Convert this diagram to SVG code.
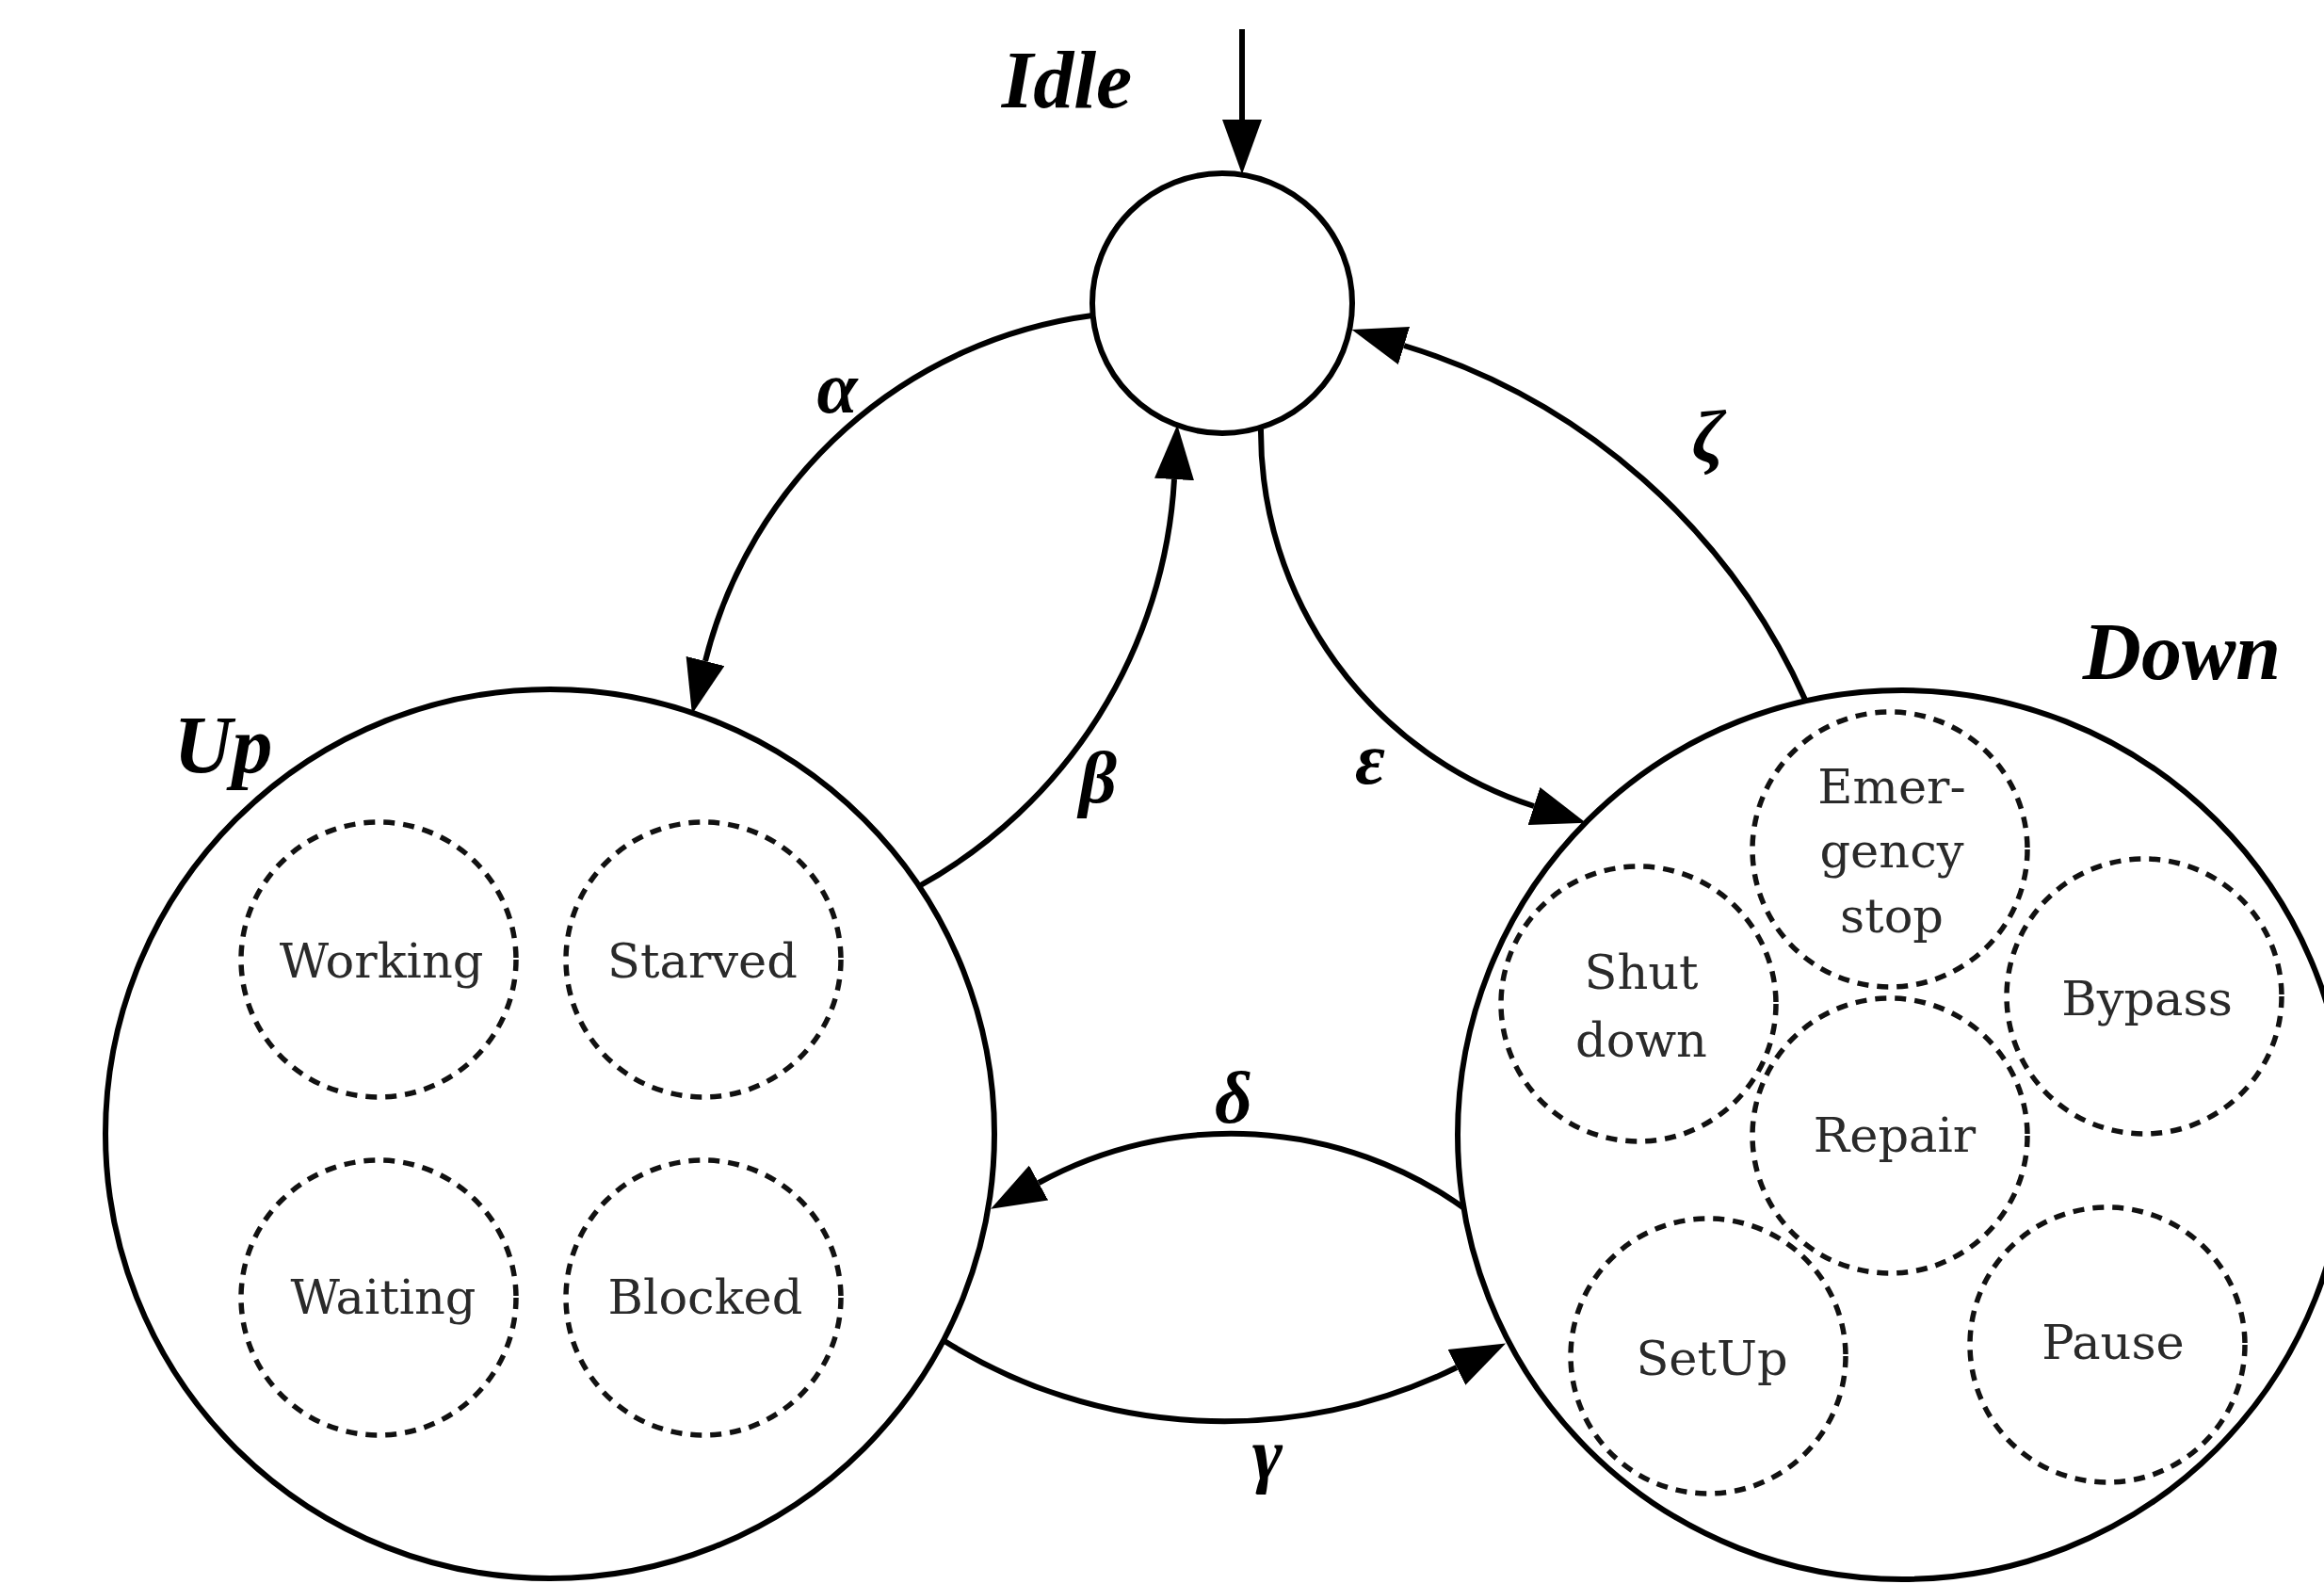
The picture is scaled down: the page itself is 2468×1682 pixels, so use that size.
<svg xmlns="http://www.w3.org/2000/svg" width="2468" height="1682" viewBox="0 0 2468 1682">
<style>
.main{fill:#fff;stroke:#000;stroke-width:6}
.sub{fill:none;stroke:#111;stroke-width:5.5;stroke-dasharray:12 9}
.conn{fill:none;stroke:#000;stroke-width:6}
.lbl{font-family:"Liberation Serif",serif;font-style:italic;font-weight:bold;font-size:86px;fill:#000;text-anchor:middle}
.gr{font-family:"Liberation Serif",serif;font-style:italic;font-weight:bold;font-size:78px;fill:#000;text-anchor:middle}
.in{font-family:"DejaVu Serif",serif;font-size:51px;fill:#2a2a2a;text-anchor:middle}
</style>
<defs>
<marker id="ah" markerUnits="userSpaceOnUse" viewBox="0 0 58 42" refX="0" refY="21" markerWidth="58" markerHeight="42" orient="auto">
<path d="M0,0 L58,21 L0,42 z" fill="#000"/>
</marker>
</defs>
<rect width="2468" height="1682" fill="#fff"/>

<g id="idle">
<circle class="main" cx="1298" cy="322" r="138"/>
<text class="lbl" x="1133" y="114">Idle</text>
</g>

<g id="up">
<circle class="main" cx="584" cy="1204" r="472"/>
<text class="lbl" x="237" y="820">Up</text>
<g id="working"><circle class="sub" cx="402" cy="1019" r="146"/><text class="in" x="405" y="1038">Working</text></g>
<g id="starved"><circle class="sub" cx="747" cy="1019" r="146"/><text class="in" x="746" y="1038">Starved</text></g>
<g id="waiting"><circle class="sub" cx="402" cy="1378" r="146"/><text class="in" x="407" y="1395">Waiting</text></g>
<g id="blocked"><circle class="sub" cx="747" cy="1378" r="146"/><text class="in" x="749" y="1395">Blocked</text></g>
</g>

<g id="down">
<circle class="main" cx="2020" cy="1205" r="472"/>
<text class="lbl" x="2317" y="721">Down</text>
<g id="emergency"><circle class="sub" cx="2007" cy="902" r="146"/><text class="in" x="2009" y="853">Emer-</text><text class="in" x="2009" y="921">gency</text><text class="in" x="2009" y="990">stop</text></g>
<g id="shutdown"><circle class="sub" cx="1740" cy="1066" r="146"/><text class="in" x="1743" y="1050">Shut</text><text class="in" x="1743" y="1122">down</text></g>
<g id="bypass"><circle class="sub" cx="2277" cy="1058" r="146"/><text class="in" x="2280" y="1078">Bypass</text></g>
<g id="repair"><circle class="sub" cx="2007" cy="1206" r="146"/><text class="in" x="2012" y="1223">Repair</text></g>
<g id="setup"><circle class="sub" cx="1814" cy="1440" r="146"/><text class="in" x="1818" y="1460">SetUp</text></g>
<g id="pause"><circle class="sub" cx="2238" cy="1428" r="146"/><text class="in" x="2244" y="1443">Pause</text></g>
</g>

<g id="connectors">
<path class="conn" d="M1319,31 L1319,127" marker-end="url(#ah)"/>
<path class="conn" d="M1160,335 A490,490 0 0 0 749,702" marker-end="url(#ah)"/>
<path class="conn" d="M976,941 A528,528 0 0 0 1247,509" marker-end="url(#ah)"/>
<path class="conn" d="M1339,456 A418,418 0 0 0 1629,856" marker-end="url(#ah)"/>
<path class="conn" d="M1917,743 A685,685 0 0 0 1491,367" marker-end="url(#ah)"/>
<path class="conn" d="M1555,1283 A426,426 0 0 0 1103,1256" marker-end="url(#ah)"/>
<path class="conn" d="M1003,1424 A560,560 0 0 0 1547,1452" marker-end="url(#ah)"/>
<text class="gr" x="889" y="438">α</text>
<text class="gr" x="1166" y="852">β</text>
<text class="gr" x="1455" y="832">ε</text>
<text class="gr" x="1814" y="490">ζ</text>
<text class="gr" x="1310" y="1192">δ</text>
<text class="gr" x="1346" y="1570">γ</text>
</g>
</svg>
